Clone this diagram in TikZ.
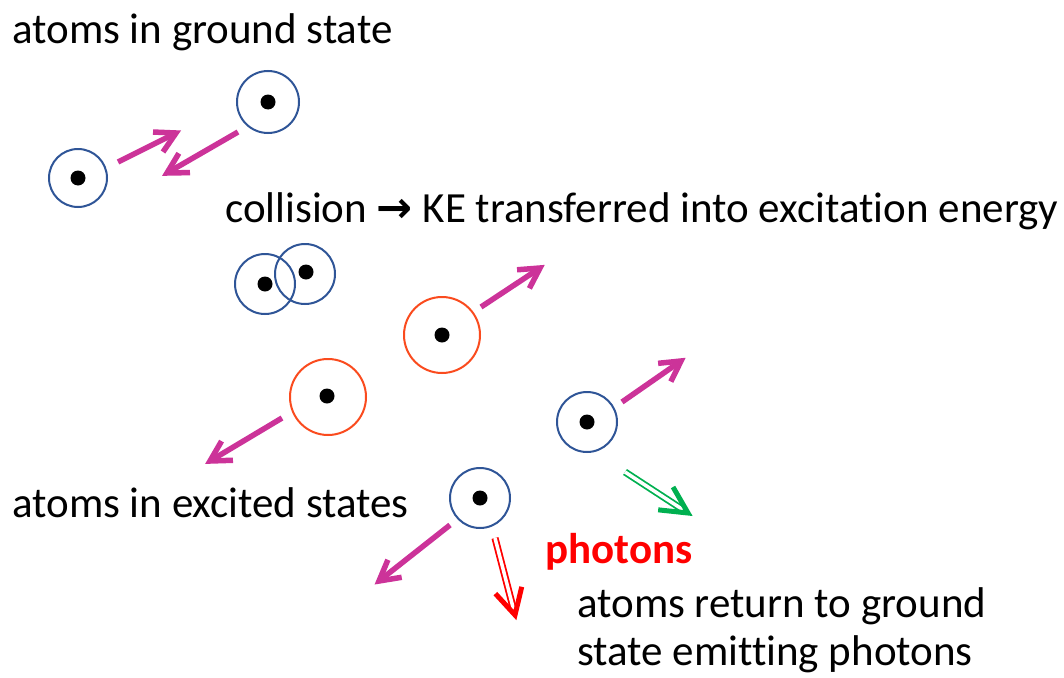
\documentclass[tikz,border=0pt]{standalone}
\usepackage{fontspec}
\setmainfont{Carlito}[Ligatures=NoCommon]
\newfontfamily\symf{DejaVu Sans}
\usetikzlibrary{calc}
\definecolor{atomblue}{RGB}{47,85,151}
\definecolor{atomred}{RGB}{250,75,30}
\definecolor{magarrow}{RGB}{204,51,153}
\definecolor{phgreen}{RGB}{0,176,80}
\definecolor{phred}{RGB}{255,0,0}
\tikzset{
  x=1pt, y=-1pt,
  groundatom/.style={circle, draw=atomblue, line width=2pt, minimum size=58pt, inner sep=0pt},
  excitedatom/.style={circle, draw=atomred, line width=2pt, minimum size=76pt, inner sep=0pt},
  nucleus/.style={fill=black},
  motion/.style={draw=magarrow, line width=5.5pt, line join=miter},
  photonshaft/.style={double=white, double distance=3.5pt, line width=1.8pt},
  photonhead/.style={line width=5pt, line join=miter},
  label/.style={font=\fontsize{43}{50}\selectfont, anchor=base west, inner sep=0pt},
}
\newcommand{\motionarrow}[2]{%
  \draw[motion, shorten >=4pt] (#1) -- (#2);
  \draw[motion] ($(#2)!23pt!29:(#1)$) -- (#2) -- ($(#2)!23pt!-29:(#1)$);}
\begin{document}
\begin{tikzpicture}
\useasboundingbox (0,0) rectangle (1064,677);

% texts
\node[label] (t1) at (12,44) {atoms in ground state};
\node[label] (t2) at (225,222) {collision {\symf\bfseries →} KE transferred into excitation energy};
\node[label] (t3) at (12,517) {atoms in excited states};
\node[label, text=phred, font=\fontsize{43}{50}\selectfont\bfseries] (t4) at (545,563) {photons};
\node[label] (t5) at (577,617) {atoms return to ground};
\node[label] (t6) at (577,665) {state emitting photons};

% ground-state atoms
\node[groundatom] (g1) at (78,178) {};
\node[groundatom, minimum size=62pt] (g2) at (268,102) {};
\fill[nucleus] (g1.center) circle (7.5);
\fill[nucleus] (g2.center) circle (7.5);

% colliding atoms
\node[groundatom, minimum size=60pt] (c1) at (265,284) {};
\node[groundatom, minimum size=60pt] (c2) at (305,274) {};
\fill[nucleus] (265,284) circle (7.5);
\fill[nucleus] (306,272) circle (7.5);

% excited atoms
\node[excitedatom] (e1) at (442,335) {};
\node[excitedatom] (e2) at (328,397) {};
\fill[nucleus] (e1.center) circle (7.5);
\fill[nucleus] (327,396) circle (7.5);

% atoms returning to ground state
\node[groundatom, minimum size=60pt] (r1) at (587,422) {};
\node[groundatom, minimum size=60pt] (r2) at (480,498) {};
\fill[nucleus] (r1.center) circle (7.5);
\fill[nucleus] (r2.center) circle (7.5);

% motion arrows
\coordinate (m1a) at (118,162); \coordinate (m1b) at (176,133);
\coordinate (m2a) at (238,132); \coordinate (m2b) at (167,173);
\coordinate (m3a) at (481,307); \coordinate (m3b) at (540,268);
\coordinate (m4a) at (282,418); \coordinate (m4b) at (210,461);
\coordinate (m5a) at (622,402); \coordinate (m5b) at (681,361);
\coordinate (m6a) at (450,525); \coordinate (m6b) at (379,581);
\motionarrow{m1a}{m1b}
\motionarrow{m2a}{m2b}
\motionarrow{m3a}{m3b}
\motionarrow{m4a}{m4b}
\motionarrow{m5a}{m5b}
\motionarrow{m6a}{m6b}

% photons
\coordinate (pga) at (625,472); \coordinate (pgb) at (688,513);
\coordinate (pra) at (495,538); \coordinate (prb) at (515,615);
\draw[photonshaft, draw=phgreen, shorten >=6pt] (pga) -- (pgb);
\draw[photonhead, draw=phgreen] ($(pgb)!30pt!27:(pga)$) -- (pgb) -- ($(pgb)!30pt!-27:(pga)$);
\draw[photonshaft, draw=phred, shorten >=6pt] (pra) -- (prb);
\draw[photonhead, draw=phred] ($(prb)!29pt!28:(pra)$) -- (prb) -- ($(prb)!29pt!-28:(pra)$);
\end{tikzpicture}
\end{document}
